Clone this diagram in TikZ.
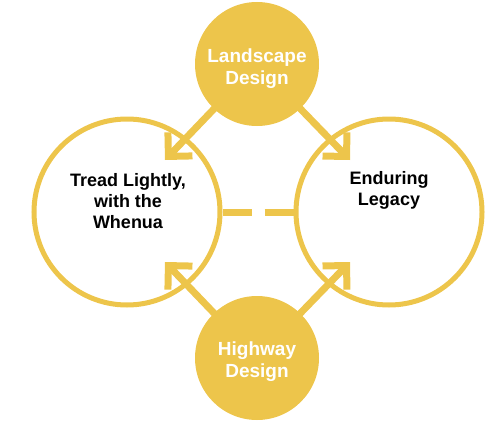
\documentclass[tikz,border=0pt]{standalone}
\usepackage{fontspec}
\setmainfont{Liberation Sans}
\usetikzlibrary{arrows.meta,positioning}
\definecolor{gold}{RGB}{237,197,75}

\begin{document}
\begin{tikzpicture}[
    x=1pt, y=-1pt,
    hub/.style={circle, fill=gold, minimum size=124pt, inner sep=0pt},
    hubtext/.style={align=center, text=white, font=\fontsize{19}{22}\selectfont\bfseries},
    ring/.style={circle, draw=gold, line width=5pt, minimum size=186pt, inner sep=0pt},
    ringtext/.style={align=center, font=\fontsize{18}{21}\selectfont\bfseries},
    feed/.style={gold, line width=7pt, -{Straight Barb[length=17pt, width=34pt]}},
    link/.style={gold, line width=7pt, dash pattern=on 29pt off 13pt}
]
\useasboundingbox (0,0) rectangle (500,420);
\node[ring] (tread) at (127,212) {};
\node[ring] (legacy) at (389,212) {};
\node[ringtext] (treadtxt) at (128,201) {Tread Lightly,\\with the\\Whenua};
\node[ringtext] (legacytxt) at (389,190) {Enduring\\Legacy};
\coordinate (tl) at (165,160);
\coordinate (tr) at (350,160);
\coordinate (bl) at (165,262);
\coordinate (br) at (350,262);
\draw[feed] (257,64) -- (tl);
\draw[feed] (257,64) -- (tr);
\draw[feed] (257,358) -- (bl);
\draw[feed] (257,358) -- (br);
\node[hub] (land) at (257,64) {};
\node[hub] (hwy) at (257,358) {};
\node[hubtext] (landtxt) at (257,69) {Landscape\\Design};
\node[hubtext] (hwytxt) at (257,362) {Highway\\Design};
\draw[link] (tread.east) -- (legacy.west);
\end{tikzpicture}
\end{document}
